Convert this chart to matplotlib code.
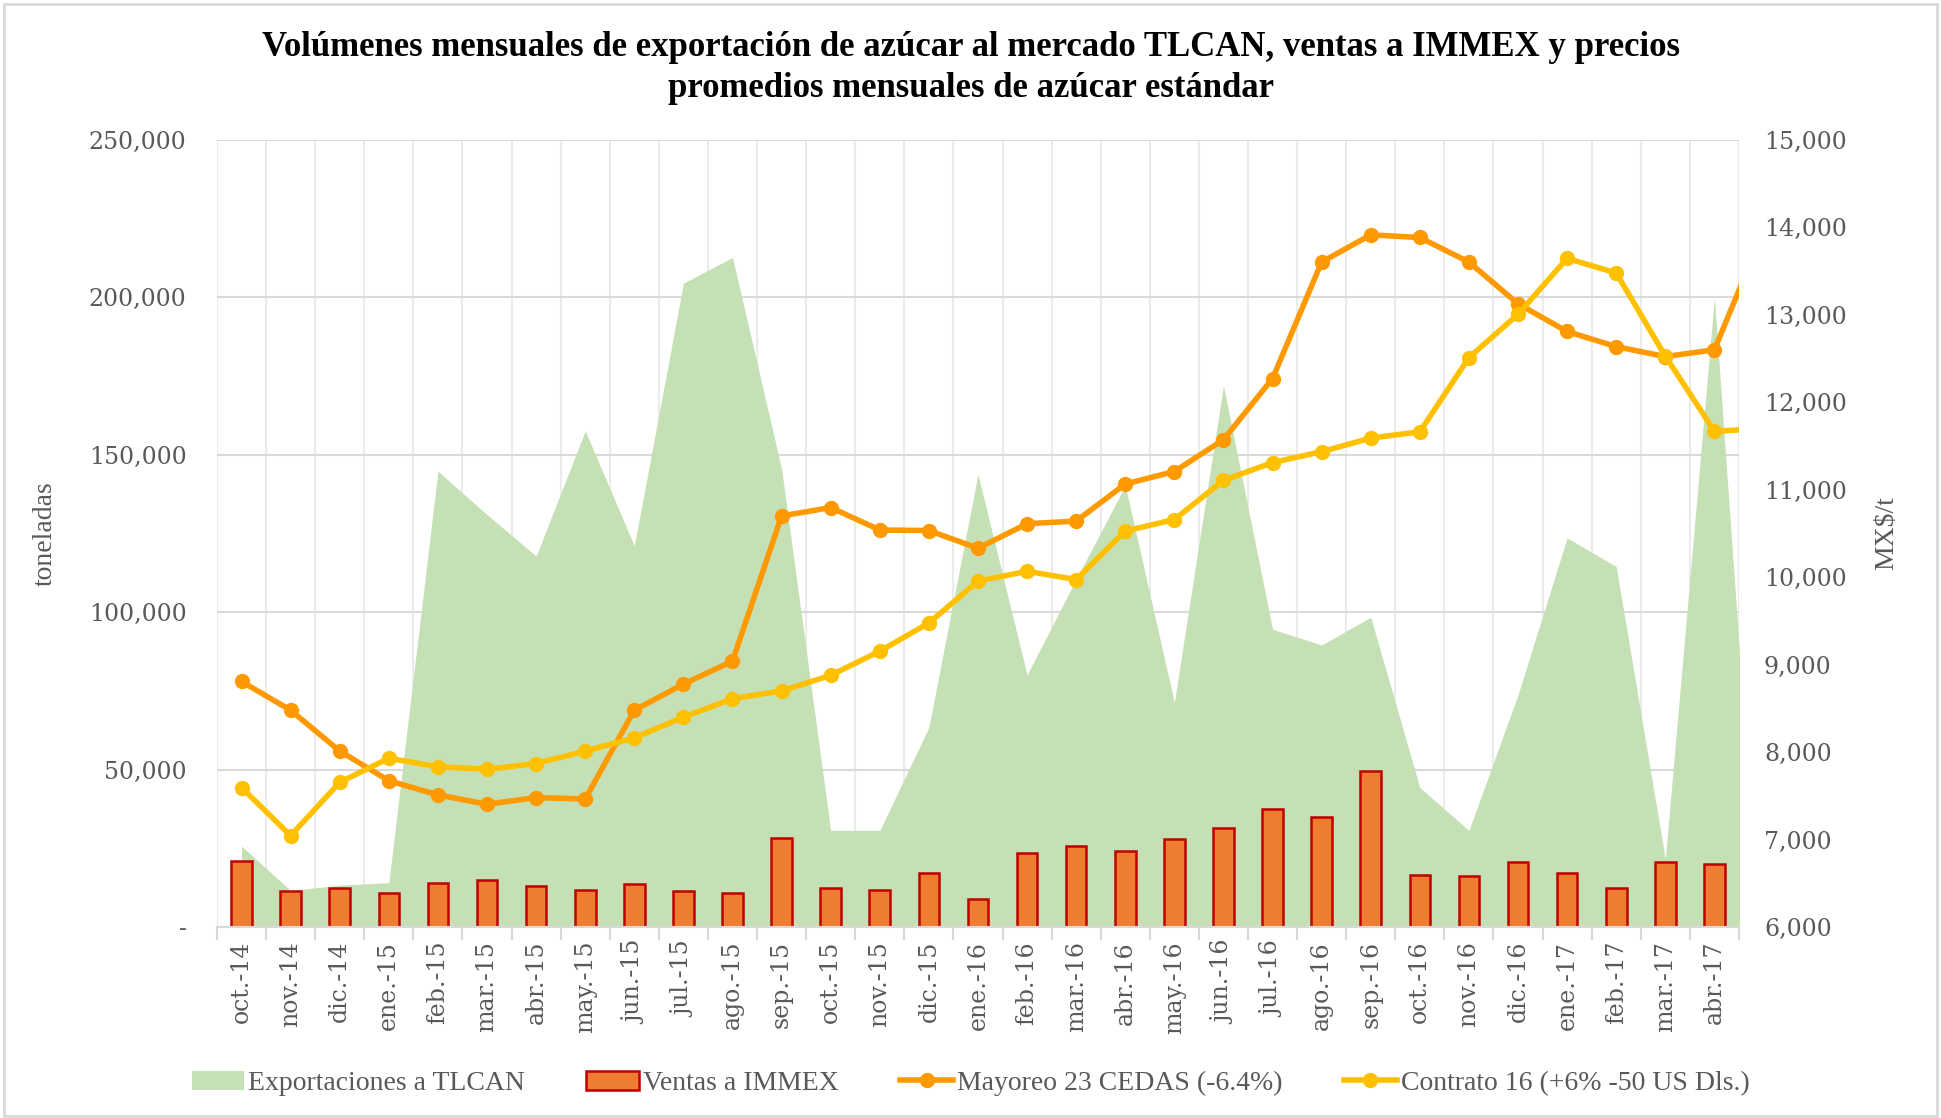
import numpy as np
import matplotlib
matplotlib.use('Agg')
from matplotlib import pyplot as plt
from matplotlib.ticker import FuncFormatter, FixedLocator
from matplotlib.lines import Line2D
from matplotlib.patches import Patch, Rectangle

# monthly categories (last one is cut off by the plot edge)
meses = ['oct.-14', 'nov.-14', 'dic.-14', 'ene.-15', 'feb.-15', 'mar.-15', 'abr.-15',
         'may.-15', 'jun.-15', 'jul.-15', 'ago.-15', 'sep.-15', 'oct.-15', 'nov.-15',
         'dic.-15', 'ene.-16', 'feb.-16', 'mar.-16', 'abr.-16', 'may.-16', 'jun.-16',
         'jul.-16', 'ago.-16', 'sep.-16', 'oct.-16', 'nov.-16', 'dic.-16', 'ene.-17',
         'feb.-17', 'mar.-17', 'abr.-17', 'may.-17']

# toneladas
exportaciones = [25700, 11600, 13300, 14100, 144800, 131000, 117800, 157600, 121100,
                 204500, 212700, 145500, 30700, 30700, 63400, 143800, 80100, 110500,
                 140200, 71300, 172000, 94600, 89600, 98400, 44300, 30700, 73800,
                 123600, 114500, 21600, 199900, -20000]
ventas_immex = [21100, 11300, 12400, 10800, 13900, 14900, 12900, 11800, 13600, 11300,
                10900, 28200, 12300, 11900, 17100, 9000, 23600, 25700, 24100, 27900,
                31500, 37500, 34800, 49600, 16600, 16100, 20700, 17100, 12400, 20700,
                19900, np.nan]

# MX$/t
mayoreo = [8808, 8479, 8013, 7673, 7511, 7404, 7481, 7464, 8479, 8778, 9041, 10701,
           10797, 10540, 10534, 10331, 10612, 10642, 11066, 11209, 11573, 12272, 13604,
           13915, 13885, 13604, 13127, 12810, 12637, 12523, 12601, 13960]
contrato = [7595, 7045, 7655, 7930, 7834, 7804, 7870, 8013, 8163, 8401, 8611, 8700,
            8879, 9154, 9477, 9955, 10068, 9973, 10528, 10660, 11108, 11311, 11436,
            11591, 11663, 12511, 13007, 13646, 13479, 12529, 11669, 11700]

n_visible = 31
c_area = '#C5E0B4'
c_bar = '#ED7D31'
c_bar_edge = '#C00000'
c_may = '#FF9900'
c_con = '#FFC000'
c_txt = '#595959'
serif_b = 'Liberation Serif'

plt.rcParams['font.family'] = 'DejaVu Serif'

fig = plt.figure(figsize=(19.41, 11.18), dpi=100)
ax = fig.add_axes([0.1118, 0.1708, 0.7841, 0.7040])
ax2 = ax.twinx()

x = np.arange(len(meses))
ax.fill_between(x, 0, exportaciones, color=c_area, lw=0, zorder=1)
ax.bar(x, ventas_immex, width=0.42, color=c_bar, edgecolor=c_bar_edge, lw=1.8, zorder=2)

ax2.plot(x, mayoreo, color=c_may, lw=4, marker='o', ms=10, zorder=3)
ax2.plot(x, contrato, color=c_con, lw=4, marker='o', ms=10, zorder=3)

ax.set_xlim(-0.5, n_visible - 0.5)
ax.set_ylim(0, 250000)
ax2.set_ylim(6000, 15000)
ax.set_yticks(np.arange(0, 250001, 50000))
ax2.set_yticks(np.arange(6000, 15001, 1000))

ax.yaxis.set_major_formatter(FuncFormatter(lambda v, p: '-' if v == 0 else f'{v:,.0f}'))
ax2.yaxis.set_major_formatter(FuncFormatter(lambda v, p: f'{v:,.0f}'))

ax.set_xticks(x[:n_visible])
ax.set_xticklabels(meses[:n_visible], rotation=90)
ax.xaxis.set_minor_locator(FixedLocator(np.arange(-0.5, n_visible, 1.0)))
ax.tick_params(axis='x', which='major', length=0, pad=10, labelsize=17, labelcolor=c_txt)
ax.tick_params(axis='x', which='minor', length=9, color='#D9D9D9', width=1.5)
ax.tick_params(axis='y', length=0, pad=22, labelsize=17, labelcolor=c_txt)
ax2.tick_params(axis='y', length=0, pad=18, labelsize=17, labelcolor=c_txt)

ax.grid(axis='y', color='#D9D9D9', lw=1.5)
ax.grid(axis='x', which='minor', color='#EBEBEB', lw=1.5)
ax.set_axisbelow(True)

for a in (ax, ax2):
    for s in ('top', 'left', 'right'):
        a.spines[s].set_visible(False)
    a.spines['bottom'].set_color('#D9D9D9')
    a.spines['bottom'].set_linewidth(1.5)

ax.set_ylabel('toneladas', family=serif_b, fontsize=20, color=c_txt, labelpad=22)
ax2.set_ylabel('MX$/t', family=serif_b, fontsize=20, color=c_txt, labelpad=20)

fig.suptitle('Volúmenes mensuales de exportación de azúcar al mercado TLCAN, ventas a IMMEX y precios\n'
             'promedios mensuales de azúcar estándar',
             x=0.5, y=0.972, family=serif_b, fontsize=25, fontweight='bold', linespacing=1.3)

handles = [Patch(facecolor=c_area, edgecolor='none'),
           Patch(facecolor=c_bar, edgecolor=c_bar_edge, lw=1.8),
           Line2D([], [], color=c_may, lw=4, marker='o', ms=10),
           Line2D([], [], color=c_con, lw=4, marker='o', ms=10)]
labels = ['Exportaciones a TLCAN', 'Ventas a IMMEX', 'Mayoreo 23 CEDAS (-6.4%)',
          'Contrato 16 (+6% -50 US Dls.)']
leg = fig.legend(handles, labels, loc='center', bbox_to_anchor=(0.5, 0.031), ncol=4,
                 frameon=False, prop={'family': serif_b, 'size': 20},
                 handlelength=1.9, handletextpad=0.15, columnspacing=2.2)
for t in leg.get_texts():
    t.set_color(c_txt)

# chart border
fig.patches.append(Rectangle((0.002, 0.002), 0.996, 0.994, transform=fig.transFigure,
                             fill=False, edgecolor='#D9D9D9', lw=2))

fig.savefig('out.png', dpi=100)
